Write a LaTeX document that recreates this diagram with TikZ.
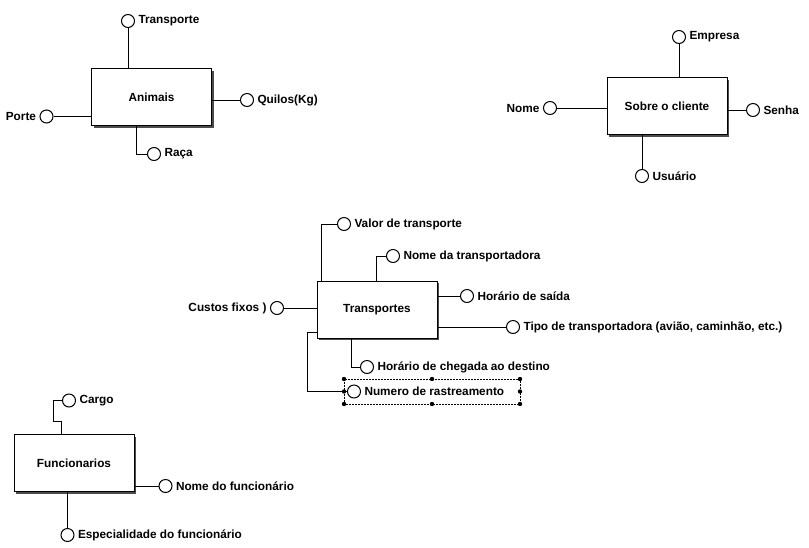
\documentclass[tikz,border=0pt]{standalone}
\usepackage{fontspec}
\setmainfont{Liberation Sans}
\usetikzlibrary{shadows}

\begin{document}
\begin{tikzpicture}[
                        x=1pt,
                        y=-1pt,
                        line width=1pt,
                        font=\fontsize{11.8}{13}\selectfont\bfseries,
                        every label/.style={inner sep=3pt}
                    ]
                    \tikzstyle{entity}=[draw=black,fill=white,minimum width=120pt,minimum height=57pt,
                        drop shadow={shadow xshift=2pt,shadow yshift=-2pt,fill=black!70,opacity=1}]
                    \tikzstyle{attr}=[draw=black,fill=white,circle,minimum size=13pt,inner sep=0pt]
                    \tikzstyle{handle}=[fill=black]

                    \path[use as bounding box,fill=white] (0,0) rectangle (809,547);

                    % Animais
                    \node[entity] (A)  at (151.5,97)                        {Animais} ;
                    \node[attr]   (AT) at (128,21)   [label=right:Transporte] {} ;
                    \node[attr]   (AQ) at (247,100)  [label=right:Quilos(Kg)] {} ;
                    \node[attr]   (AP) at (46.5,116.5) [label=left:Porte]    {} ;
                    \node[attr]   (AR) at (154,154)  [label=right:Raça]       {} ;

                    % Sobre o cliente
                    \node[entity] (S)  at (667,106)                         {Sobre o cliente} ;
                    \node[attr]   (SE) at (679,37)   [label=right:Empresa]   {} ;
                    \node[attr]   (SN) at (550,108)  [label=left:Nome]       {} ;
                    \node[attr]   (SS) at (753,110)  [label=right:Senha]     {} ;
                    \node[attr]   (SU) at (642,176)  [label=right:Usuário]   {} ;

                    % Transportes
                    \node[entity] (T)  at (377,309.5)                       {Transportes} ;
                    \node[attr]   (TV) at (344,224)  [label=right:Valor de transporte]    {} ;
                    \node[attr]   (TN) at (393,256)  [label=right:Nome da transportadora] {} ;
                    \node[attr]   (TC) at (277,308)  [label=left:Custos fixos )]          {} ;
                    \node[attr]   (TS) at (467,296)  [label=right:Horário de saída]       {} ;
                    \node[attr]   (TT) at (513,327)  [label={right:Tipo de transportadora (avião, caminhão, etc.)}] {} ;
                    \node[attr]   (TH) at (367,367)  [label=right:Horário de chegada ao destino] {} ;
                    \node[attr]   (TR) at (354,391.5) [label=right:Numero de rastreamento] {} ;

                    % Funcionarios
                    \node[entity] (F)  at (74,463)                          {Funcionarios} ;
                    \node[attr]   (FC) at (69,400.5) [label=right:Cargo]     {} ;
                    \node[attr]   (FN) at (165.5,486) [label=right:Nome do funcionário] {} ;
                    \node[attr]   (FE) at (67.5,535) [label=right:Especialidade do funcionário] {} ;

                    \draw
                    (AT) -- (AT |- A.north)
                    (A.east |- AQ) -- (AQ)
                    (AP) -- (AP -| A.west)
                    ([xshift=45pt]A.south west) |- (AR)
                    (SE) -- (SE |- S.north)
                    (SN) -- (SN -| S.west)
                    (S.east |- SS) -- (SS)
                    (SU) -- (SU |- S.south)
                    ([xshift=5pt]T.north west) |- (TV)
                    ([xshift=60pt]T.north west) |- (TN)
                    (TC) -- (TC -| T.west)
                    (T.east |- TS) -- (TS)
                    (T.east |- TT) -- (TT)
                    ([xshift=35pt]T.south west) |- (TH)
                    ([yshift=6pt]T.south west) -- ++(-9,0) |- (TR)
                    ([xshift=48pt]F.north west) -- ++(0,-13) -- ++(-8,0) |- (FC)
                    (F.east |- FN) -- (FN)
                    (FE) -- (FE |- F.south) ;

                    % selection frame
                    \draw[line width=0.9pt,dash pattern=on 2pt off 1pt] (344,379) rectangle (520,404) ;
                    \foreach \hx/\hy in {344/379,432/379,520/379,344/391.5,520/391.5,344/404,432/404,520/404}
                        \fill[handle] (\hx,\hy) circle (2.2pt) ;

                \end{tikzpicture}
\end{document}
